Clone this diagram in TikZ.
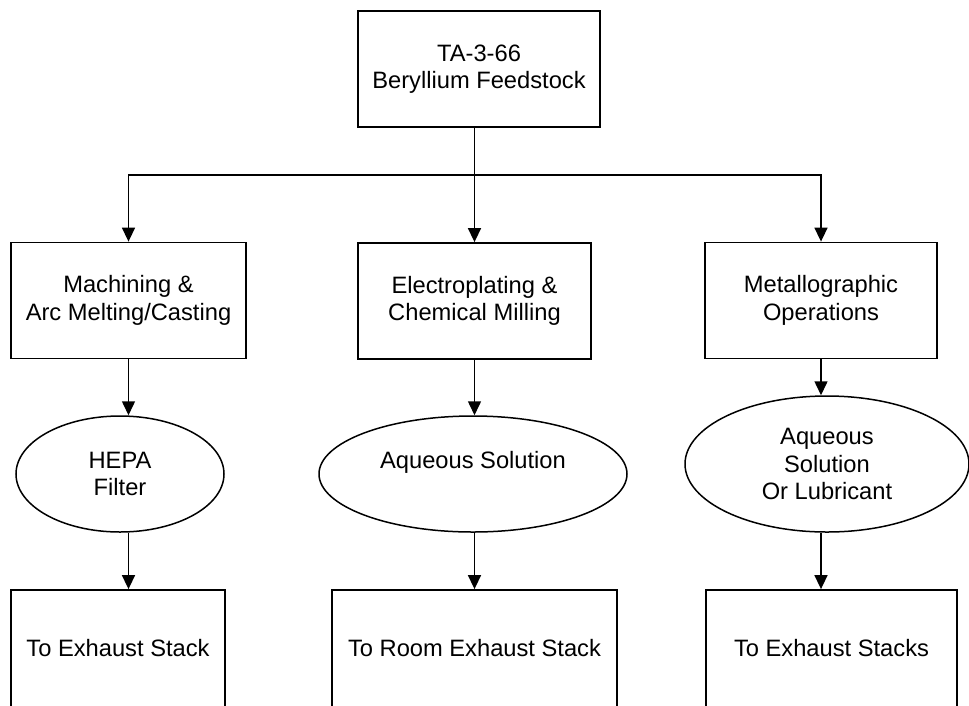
\documentclass[tikz,border=0pt]{standalone}
\usepackage{fontspec}
\setmainfont{Liberation Sans}
\usetikzlibrary{arrows.meta,shapes.geometric}
\begin{document}
\begin{tikzpicture}[x=1pt,y=-1pt,
  txt/.style={align=center,font=\fontsize{23.7}{27.5}\selectfont},
  box/.style={txt,draw,line width=1.8pt,minimum width=#1,minimum height=116pt,inner sep=0pt},
  openbox/.style={box=#1,minimum height=130pt,text depth=14pt},
  oval/.style 2 args={txt,draw,ellipse,line width=1.5pt,minimum width=#1,minimum height=#2,inner sep=0pt},
  plain/.style={line width=1.5pt},
  conn/.style={line width=1.5pt,-{Triangle[length=14pt,width=13pt]}}]
\useasboundingbox (0,0) rectangle (969,705);
\clip (0,0) rectangle (969,705);
\node[box=242pt] (top) at (479,69) {TA-3-66\\Beryllium Feedstock};
\node[box=235pt] (m1) at (128.5,300.5) {Machining \&\\Arc Melting/Casting};
\node[box=233pt] (m2) at (474.5,301) {Electroplating \&\\Chemical Milling};
\node[box=232pt] (m3) at (821,300.5) {Metallographic\\Operations};
\node[oval={208pt}{116pt}] (e1) at (120,474) {HEPA\\Filter};
\node[oval={308pt}{116pt}] (e2) at (473,474) {Aqueous Solution\\\mbox{}};
\node[oval={284pt}{136pt}] (e3) at (827,464) {Aqueous\\Solution\\Or Lubricant};
\node[openbox=214pt] (b1) at (118,655) {To Exhaust Stack};
\node[openbox=285pt] (b2) at (474.5,655) {To Room Exhaust Stack};
\node[openbox=251pt] (b3) at (831.5,655) {To Exhaust Stacks};
\coordinate (j) at (474.5,175);
\draw[plain] (m2.north |- top.south) -- (j);
\draw[conn] (j) -| (m1.north);
\draw[conn] (j) -- (m2.north);
\draw[conn] (j) -| (m3.north);
\draw[conn] (m1.south) -- (m1.south |- e1.north);
\draw[conn] (m2.south) -- (m2.south |- e2.north);
\draw[conn] (m3.south) -- (m3.south |- e3.north);
\draw[conn] (m1.south |- e1.south) -- (m1.south |- b1.north);
\draw[conn] (m2.south |- e2.south) -- (m2.south |- b2.north);
\draw[conn] (m3.south |- e3.south) -- (m3.south |- b3.north);
\end{tikzpicture}
\end{document}
